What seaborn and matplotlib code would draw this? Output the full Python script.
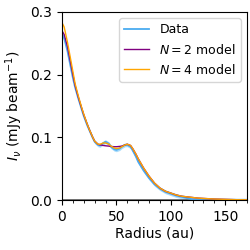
import numpy as np
import pandas as pd
import matplotlib
matplotlib.use("Agg")
import matplotlib.pyplot as plt
from matplotlib.ticker import MultipleLocator
import seaborn as sns

# DATOS

radius = [0, 2, 5, 8, 10, 12, 15, 18, 20, 23, 25, 28, 30, 33, 35, 38, 40, 43,
          45, 48, 50, 53, 55, 58, 60, 63, 65, 68, 70, 75, 80, 85, 90, 95, 100,
          105, 110, 115, 120, 125, 130, 140, 150, 160, 170]

data = [0.265, 0.258, 0.238, 0.212, 0.195, 0.180, 0.162, 0.145, 0.134, 0.120,
        0.112, 0.100, 0.093, 0.088, 0.087, 0.091, 0.093, 0.090, 0.085, 0.081,
        0.080, 0.082, 0.085, 0.088, 0.088, 0.085, 0.079, 0.069, 0.061, 0.047,
        0.035, 0.025, 0.018, 0.013, 0.010, 0.007, 0.005, 0.003, 0.001, 0.0,
        0.0, 0.0, 0.0, 0.0, 0.0]

model_n2 = [0.270, 0.264, 0.245, 0.218, 0.200, 0.183, 0.164, 0.147, 0.136,
            0.122, 0.113, 0.101, 0.094, 0.089, 0.088, 0.087, 0.0865, 0.086,
            0.0855, 0.085, 0.085, 0.0855, 0.086, 0.088, 0.089, 0.087, 0.082,
            0.073, 0.066, 0.051, 0.038, 0.027, 0.019, 0.014, 0.011, 0.008,
            0.006, 0.005, 0.004, 0.003, 0.0025, 0.0015, 0.001, 0.0005, 0.0003]

model_n4 = [0.283, 0.276, 0.252, 0.224, 0.205, 0.186, 0.166, 0.148, 0.137,
            0.122, 0.113, 0.101, 0.094, 0.089, 0.089, 0.091, 0.091, 0.089,
            0.086, 0.083, 0.082, 0.083, 0.085, 0.088, 0.089, 0.087, 0.082,
            0.073, 0.066, 0.051, 0.038, 0.027, 0.019, 0.014, 0.011, 0.008,
            0.006, 0.005, 0.004, 0.003, 0.0025, 0.0015, 0.001, 0.0005, 0.0003]

data_err = 0.003

df = pd.DataFrame({"radius": radius, "data": data,
                   "n2": model_n2, "n4": model_n4})

# FIGURA

fig, ax = plt.subplots(figsize=(2.5, 2.5), dpi=100)
fig.subplots_adjust(left=0.248, right=0.988, bottom=0.2, top=0.952)

ax.fill_between(df["radius"], df["data"] - data_err, df["data"] + data_err,
                color="lightskyblue", alpha=0.7, lw=0)
sns.lineplot(data=df, x="radius", y="data", color="#4aabf0", lw=1.3,
             label="Data", ax=ax)
sns.lineplot(data=df, x="radius", y="n2", color="purple", lw=1.0,
             label=r"$N = 2$ model", ax=ax)
sns.lineplot(data=df, x="radius", y="n4", color="orange", lw=1.0,
             label=r"$N = 4$ model", ax=ax)

ax.axhline(0, color="dimgray", lw=2, zorder=1)

ax.set_xlim(0, 170)
ax.set_ylim(0, 0.3)
ax.xaxis.set_major_locator(MultipleLocator(50))
ax.xaxis.set_minor_locator(MultipleLocator(10))
ax.yaxis.set_major_locator(MultipleLocator(0.1))
ax.set_xlabel("Radius (au)", labelpad=2)
ax.set_ylabel(r"$I_\nu$ (mJy beam$^{-1}$)")
ax.legend(loc="upper right", fontsize=9)

plt.savefig("out.png", dpi=100)
